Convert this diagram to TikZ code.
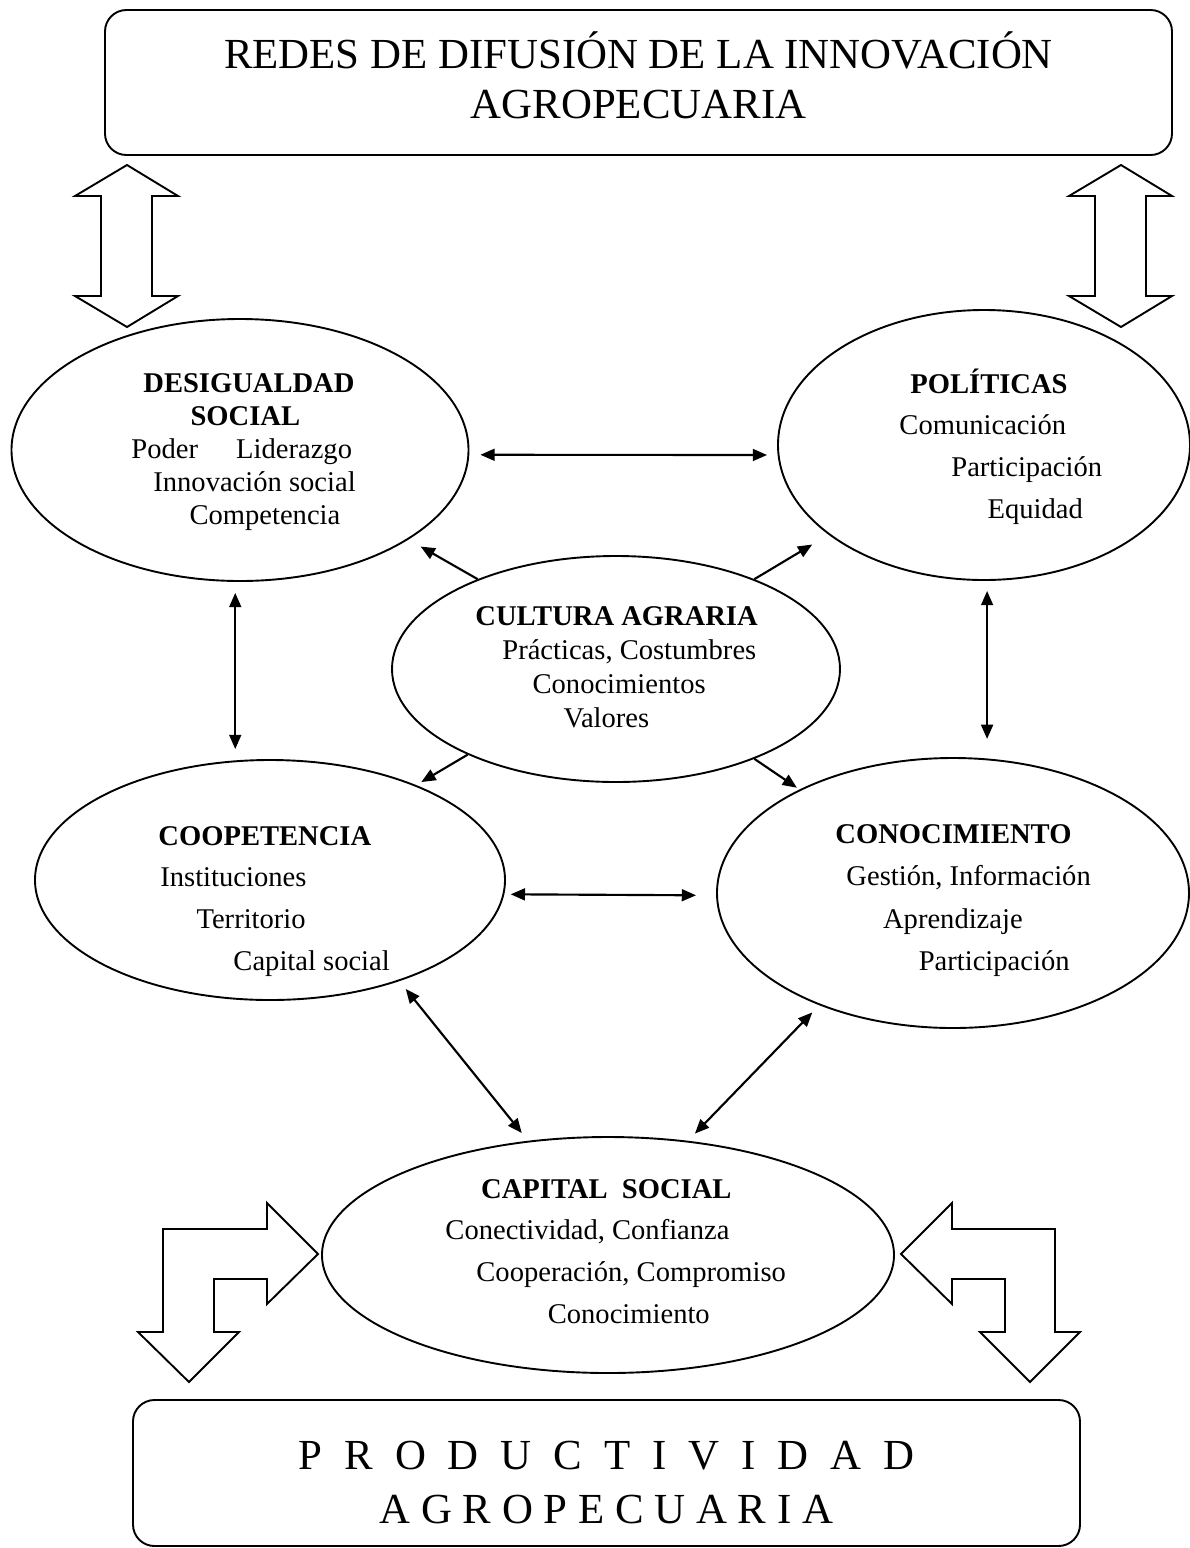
\documentclass[tikz,border=0pt]{standalone}
\usepackage{fontspec}
\setmainfont{Liberation Serif}
\usetikzlibrary{arrows.meta,shapes.geometric}
\newlength{\upx}
\setlength{\upx}{0.42pt}

\begin{document}
\begin{tikzpicture}[x=0.42pt,y=-0.42pt,
  oval/.style={ellipse,draw,line width=0.8pt,inner sep=0pt},
  titlebox/.style={rectangle,draw,rounded corners=9pt,line width=0.8pt,inner sep=0pt},
  txt/.style={anchor=base west,inner sep=0pt,font=\fontsize{12}{#1}\selectfont},
  arr/.style={-{Triangle[length=6pt,width=5pt]},line width=0.9pt},
  dblarr/.style={{Triangle[length=6pt,width=5pt]}-{Triangle[length=6pt,width=5pt]},line width=0.9pt},
  hollow/.style={draw,line width=0.8pt,line join=miter}]
  \useasboundingbox (0,0) rectangle (1190,1548);

  % boxes top and bottom
  \node[titlebox,minimum width=1067*\upx,minimum height=145*\upx] (redes) at (638.5,82.5) {};
  \node[align=center,inner sep=0pt,font=\fontsize{18}{21}\selectfont] (redestxt) at (638.5,75.5)
    {REDES DE DIFUSIÓN DE LA INNOVACIÓN\\AGROPECUARIA};
  \node[titlebox,minimum width=947*\upx,minimum height=146*\upx] (prod) at (606.5,1473) {};
  \node[align=center,inner sep=0pt,font=\fontsize{18}{23}\selectfont] (prodtxt) at (606.5,1482.5)
    {{\spaceskip=9.2pt\relax P R O D U C T I V I D A D}\\A G R O P E C U A R I A};

  % ellipses
  \node[oval,minimum width=457*\upx,minimum height=262*\upx] (desig) at (240,450) {};
  \node[oval,minimum width=412*\upx,minimum height=270*\upx] (polit) at (984,445) {};
  \node[oval,minimum width=448*\upx,minimum height=226*\upx] (cult) at (616,669) {};
  \node[oval,minimum width=470*\upx,minimum height=240*\upx] (coop) at (270,880) {};
  \node[oval,minimum width=472*\upx,minimum height=270*\upx] (conoc) at (953,893) {};
  \node[oval,minimum width=572*\upx,minimum height=236*\upx] (capital) at (608,1255) {};

  % texts
  \node[txt=13.9] (desigtxt) at (131,392) {\begin{tabular}[t]{@{}l@{}}
    \hspace*{5pt}\textbf{DESIGUALDAD}\\
    \hspace*{24.8pt}\textbf{SOCIAL}\\
    Poder\hspace{16pt}Liderazgo\\
    \hspace*{9.2pt}Innovación social\\
    \hspace*{24.4pt}Competencia\end{tabular}};
  \node[txt=17.6] (polittxt) at (899,393) {\begin{tabular}[t]{@{}l@{}}
    \hspace*{4.6pt}\textbf{POLÍTICAS}\\
    Comunicación\\
    \hspace*{21.8pt}Participación\\
    \hspace*{37pt}Equidad\end{tabular}};
  \node[txt=14.3] (culttxt) at (475,625) {\begin{tabular}[t]{@{}l@{}}
    \textbf{CULTURA AGRARIA}\\
    \hspace*{11.3pt}Prácticas, Costumbres\\
    \hspace*{24pt}Conocimientos\\
    \hspace*{37pt}Valores\end{tabular}};
  \node[txt=17.6] (cooptxt) at (158,845) {\begin{tabular}[t]{@{}l@{}}
    \textbf{COOPETENCIA}\\
    \hspace*{0.8pt}Instituciones\\
    \hspace*{16pt}Territorio\\
    \hspace*{31.5pt}Capital social\end{tabular}};
  \node[txt=17.9] (conoctxt) at (835,843) {\begin{tabular}[t]{@{}l@{}}
    \textbf{CONOCIMIENTO}\\
    \hspace*{4.6pt}Gestión, Información\\
    \hspace*{20pt}Aprendizaje\\
    \hspace*{35pt}Participación\end{tabular}};
  \node[txt=17.6] (capitaltxt) at (445,1198) {\begin{tabular}[t]{@{}l@{}}
    \hspace*{15pt}\textbf{CAPITAL\ \ SOCIAL}\\
    Conectividad, Confianza\\
    \hspace*{13pt}Cooperación, Compromiso\\
    \hspace*{43pt}Conocimiento\end{tabular}};

  % connectors
  \draw[dblarr,shorten <=4.6pt,shorten >=4.2pt] ([yshift=-2pt]desig.east) -- ([yshift=-4.2pt]polit.west);
  \draw[dblarr,shorten <=4.6pt,shorten >=4.2pt] ([xshift=-2pt]desig.south) -- ([xshift=-2pt]desig.south |- coop.north);
  \draw[dblarr,shorten <=4.2pt,shorten >=7.6pt] ([xshift=1.3pt]polit.south) -- ([xshift=1.3pt]polit.south |- conoc.north);
  \draw[arr,shorten >=5.9pt] (cult.147) -- (desig.-28);
  \draw[arr,shorten >=8pt] (cult.33) -- (polit.210);
  \draw[arr,shorten >=2.5pt] (cult.210) -- (coop.33);
  \draw[arr,shorten >=1.3pt] (cult.-33) -- (conoc.146);
  \draw[dblarr,shorten <=2pt,shorten >=8.4pt] ([yshift=-6pt]coop.east) -- ([yshift=-1pt]conoc.west);
  \draw[dblarr,shorten <=4.2pt,shorten >=4.2pt] (coop.-38) -- (capital.125);
  \draw[dblarr,shorten <=4.2pt,shorten >=4.2pt] (conoc.-140) -- (capital.55);

  % hollow block arrows
  \foreach \cx in {127,1121}
    \draw[hollow] (\cx,165) -- (\cx+51,196) -- (\cx+25,196) -- (\cx+25,296) -- (\cx+51,296)
      -- (\cx,327) -- (\cx-52,296) -- (\cx-26,296) -- (\cx-26,196) -- (\cx-52,196) -- cycle;
  \draw[hollow] (318,1254) -- (267,1203) -- (267,1229) -- (163,1229) -- (163,1332) -- (138,1332)
    -- (189,1382) -- (239,1332) -- (214,1332) -- (214,1279) -- (267,1279) -- (267,1304) -- cycle;
  \draw[hollow] (901,1254) -- (952,1203) -- (952,1229) -- (1055,1229) -- (1055,1332) -- (1080,1332)
    -- (1030,1382) -- (980,1332) -- (1005,1332) -- (1005,1279) -- (952,1279) -- (952,1304) -- cycle;
\end{tikzpicture}
\end{document}
